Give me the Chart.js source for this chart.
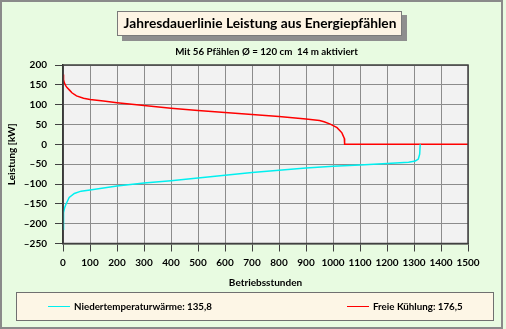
<!DOCTYPE html>
<html>
<head>
<meta charset="utf-8">
<script src="https://cdn.jsdelivr.net/npm/chart.js@4.4.0/dist/chart.umd.min.js"></script>
<style>
  html, body { margin: 0; padding: 0; background: #fff; }
  canvas { display: block; }
</style>
</head>
<body>
<canvas id="myChart" width="506" height="329"></canvas>
<script>
// Daten
const stundenNT = [0, 1, 3, 6, 11, 23, 42, 67, 100, 200, 300, 400, 500, 600, 700, 800, 900, 1000, 1100, 1200, 1280, 1305, 1316, 1321, 1323];
const niedertemperatur = [-214, -190, -172, -160, -151, -134, -124, -118, -115, -105, -97.5, -91.5, -85, -78, -71, -65.5, -59.5, -55.5, -52, -48.5, -45, -42, -37, -25, 0];

const stundenFK = [0, 2, 5, 10, 15, 25, 33, 50, 76, 100, 150, 200, 300, 400, 500, 600, 700, 800, 900, 950, 967, 990, 1015, 1033, 1042, 1043, 1500];
const freieKuehlung = [176, 163, 155, 148, 143, 136, 130, 122, 116, 113, 109, 105, 98, 91, 85, 80, 75, 70, 64, 60, 57, 51, 42, 29, 15, 0, 0];

const legendLabels = ['Niedertemperaturwärme: 135,8', 'Freie Kühlung: 176,5'];
const farben = ['#00f0f0', '#ff0000'];
const titel = 'Jahresdauerlinie Leistung aus Energiepfählen';
const untertitel = 'Mit 56 Pfählen Ø = 120 cm  14 m aktiviert';

const FONT = 'Lato';

function fitSize(ctx, text, width) {
    ctx.font = 'bold 20px ' + FONT;
    return 20 * width / ctx.measureText(text).width;
}

const rahmen = {
    id: 'rahmen',
    beforeDraw(chart) {
        const ctx = chart.ctx;
        const a = chart.chartArea;
        ctx.save();
        // Hintergrund
        ctx.fillStyle = '#e8fbe1';
        ctx.fillRect(0, 0, 506, 329);
        ctx.strokeStyle = '#8a8a8a';
        ctx.lineWidth = 2;
        ctx.strokeRect(1, 1, 501, 327);

        // Titelbox mit Schatten
        ctx.fillStyle = '#8e8e8e';
        ctx.fillRect(122, 15, 285, 26);
        ctx.fillStyle = '#fdf4e4';
        ctx.fillRect(117, 11, 285, 25);
        ctx.strokeStyle = '#7a7a7a';
        ctx.lineWidth = 1;
        ctx.strokeRect(117.5, 11.5, 284, 24);

        ctx.fillStyle = '#000';
        ctx.textBaseline = 'middle';
        ctx.textAlign = 'center';
        let s = fitSize(ctx, titel, 273);
        ctx.font = 'bold ' + s + 'px ' + FONT;
        ctx.fillText(titel, 260, 24);

        s = fitSize(ctx, untertitel, 183);
        ctx.font = 'bold ' + s + 'px ' + FONT;
        ctx.fillText(untertitel, 266.5, 52);

        // Diagrammfläche
        ctx.fillStyle = '#f2f2f2';
        ctx.fillRect(a.left, a.top, a.right - a.left, a.bottom - a.top);

        // Legende
        ctx.fillStyle = '#fdf6e6';
        ctx.fillRect(16, 292, 477, 29);
        ctx.strokeStyle = '#707070';
        ctx.strokeRect(16.5, 292.5, 477, 28);

        s = fitSize(ctx, legendLabels[0], 138);
        ctx.font = 'bold ' + s + 'px ' + FONT;
        ctx.textAlign = 'left';
        const lx = [48, 347];
        legendLabels.forEach(function(txt, i) {
            ctx.strokeStyle = farben[i];
            ctx.lineWidth = 1;
            ctx.beginPath();
            ctx.moveTo(lx[i], 306.5);
            ctx.lineTo(lx[i] + 22, 306.5);
            ctx.stroke();
            ctx.fillStyle = '#000';
            ctx.fillText(txt, lx[i] + 26, 307);
        });
        ctx.restore();
    },
    afterDraw(chart) {
        const ctx = chart.ctx;
        const a = chart.chartArea;
        ctx.save();
        ctx.strokeStyle = '#404040';
        ctx.lineWidth = 1.5;
        ctx.strokeRect(a.left, a.top, a.right - a.left, a.bottom - a.top);
        ctx.restore();
    }
};

const achsenFont = { family: FONT, size: 10, weight: 'bold' };

const config = {
    type: 'line',
    data: {
        datasets: [
            {
                label: legendLabels[0],
                data: stundenNT.map((x, i) => ({ x: x, y: niedertemperatur[i] })),
                borderColor: farben[0],
                borderWidth: 1.5,
                pointRadius: 0,
                tension: 0,
                fill: false
            },
            {
                label: legendLabels[1],
                data: stundenFK.map((x, i) => ({ x: x, y: freieKuehlung[i] })),
                borderColor: farben[1],
                borderWidth: 1.5,
                pointRadius: 0,
                tension: 0,
                fill: false
            }
        ]
    },
    options: {
        responsive: false,
        animation: false,
        devicePixelRatio: 1,
        layout: { padding: { left: 0, right: 38, top: 65, bottom: 39.5 } },
        plugins: {
            legend: { display: false },
            tooltip: { enabled: false }
        },
        scales: {
            x: {
                type: 'linear',
                min: 0,
                max: 1500,
                ticks: {
                    stepSize: 100,
                    autoSkip: false,
                    maxRotation: 0,
                    color: '#000',
                    font: achsenFont,
                    padding: 5,
                    callback: function(v) { return String(v); }
                },
                grid: { color: '#8c8c8c', tickColor: '#404040', tickLength: 8 },
                border: { color: '#404040', width: 1.5 },
                title: {
                    display: true,
                    text: 'Betriebsstunden',
                    color: '#000',
                    font: achsenFont,
                    padding: { top: 0, bottom: 1 }
                },
                afterFit: function(scale) { scale.height = 46; }
            },
            y: {
                min: -250,
                max: 200,
                ticks: {
                    stepSize: 50,
                    color: '#000',
                    font: achsenFont,
                    padding: 8,
                    callback: function(v) { return String(v).replace('-', '\u2013'); }
                },
                grid: { color: '#8c8c8c', tickColor: '#404040', tickLength: 8 },
                border: { color: '#202020', width: 1.5 },
                title: {
                    display: true,
                    text: 'Leistung [kW]',
                    color: '#000',
                    font: achsenFont,
                    padding: { top: 6, bottom: 0 }
                },
                afterFit: function(scale) { scale.width = 63; }
            }
        }
    },
    plugins: [rahmen]
};

const myChart = new Chart(document.getElementById('myChart'), config);
</script>
</body>
</html>
